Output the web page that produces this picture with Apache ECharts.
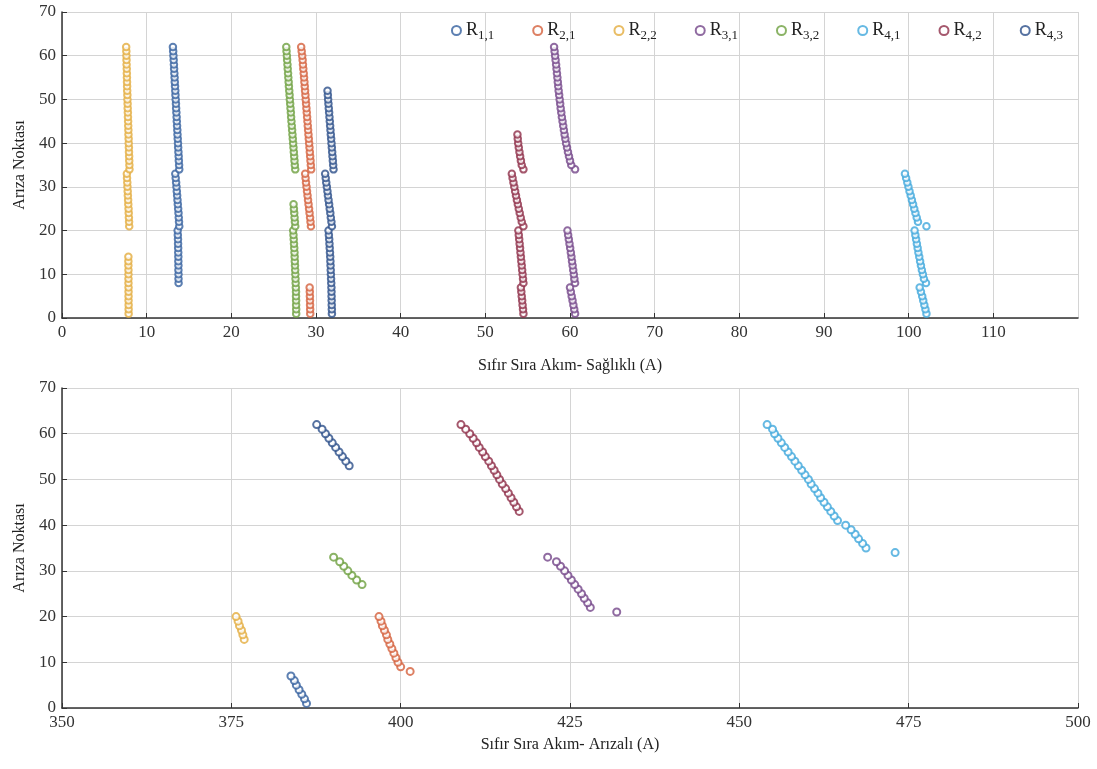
<!DOCTYPE html>
<html>
<head>
<meta charset="utf-8">
<script src="https://cdn.jsdelivr.net/npm/echarts@6/dist/echarts.min.js"></script>
<style>html,body{margin:0;padding:0;background:#fff}#c{width:1097px;height:769px}</style>
</head>
<body>
<div id="c"></div>
<script>
// ---- Data ----
const seriesNames = ['R1,1','R2,1','R2,2','R3,1','R3,2','R4,1','R4,2','R4,3'];
const faultPoints = [1,2,3,4,5,6,7,8,9,10,11,12,13,14,15,16,17,18,19,20,21,22,23,24,25,26,27,28,29,30,31,32,33,34,35,36,37,38,39,40,41,42,43,44,45,46,47,48,49,50,51,52,53,54,55,56,57,58,59,60,61,62];
const xTicksHealthy = [0,10,20,30,40,50,60,70,80,90,100,110,120];
const xTicksFaulty = [350,375,400,425,450,475,500];
const yTicks = [0,10,20,30,40,50,60,70];

// Healthy zero-sequence current (A), aligned with faultPoints (null = not plotted)
const h_R11 = [null,null,null,null,null,null,null,
  13.77,13.76,13.76,13.75,13.75,13.74,13.74,13.73,13.72,13.71,13.70,13.68,13.66,
  13.85,13.82,13.79,13.76,13.72,13.68,13.64,13.60,13.56,13.52,13.48,13.43,13.38,
  13.85,13.83,13.80,13.78,13.75,13.72,13.70,13.67,13.64,13.62,13.59,13.56,13.54,13.51,13.48,13.46,13.43,13.40,13.38,13.35,13.32,13.30,13.27,13.24,13.22,13.19,13.16,13.13,13.10];
const h_R21 = [29.32,29.31,29.30,29.29,29.28,29.27,29.25,
  null,null,null,null,null,null,null,null,null,null,null,null,null,
  29.40,29.35,29.30,29.24,29.18,29.12,29.06,29.00,28.94,28.88,28.82,28.77,28.72,
  29.43,29.39,29.35,29.31,29.27,29.23,29.19,29.15,29.11,29.07,29.03,28.99,28.95,28.91,28.87,28.83,28.79,28.75,28.71,28.67,28.63,28.59,28.55,28.50,28.46,28.42,28.37,28.31,28.25];
const h_R22 = [7.87,7.87,7.87,7.86,7.86,7.86,7.86,7.85,7.85,7.85,7.85,7.84,7.84,7.84,
  null,null,null,null,null,null,
  7.94,7.92,7.90,7.88,7.86,7.83,7.81,7.78,7.76,7.73,7.71,7.68,7.66,
  7.97,7.96,7.94,7.93,7.91,7.90,7.88,7.87,7.85,7.84,7.82,7.81,7.79,7.78,7.76,7.75,7.73,7.72,7.70,7.69,7.68,7.67,7.66,7.65,7.63,7.62,7.61,7.60,7.58];
const h_R31 = [60.60,60.50,60.40,60.30,60.20,60.10,60.00,
  60.60,60.52,60.45,60.38,60.31,60.24,60.17,60.10,60.02,59.94,59.86,59.78,59.70,
  null,null,null,null,null,null,null,null,null,null,null,null,null,
  60.60,60.15,60.00,59.88,59.76,59.65,59.54,59.45,59.36,59.28,59.20,59.12,59.04,58.97,58.90,58.84,58.78,58.72,58.66,58.61,58.56,58.51,58.46,58.41,58.36,58.30,58.24,58.18,58.12];
const h_R32 = [27.66,27.66,27.65,27.65,27.64,27.64,27.62,27.60,27.58,27.56,27.54,27.52,27.50,27.48,27.46,27.43,27.40,27.37,27.34,27.30,
  27.55,27.51,27.47,27.43,27.39,27.35,
  null,null,null,null,null,null,null,
  27.55,27.50,27.46,27.42,27.38,27.34,27.30,27.26,27.22,27.18,27.14,27.10,27.06,27.03,26.99,26.95,26.91,26.88,26.84,26.80,26.77,26.73,26.70,26.66,26.63,26.59,26.56,26.52,26.49];
const h_R41 = [102.10,101.98,101.85,101.72,101.60,101.45,101.30,
  102.05,101.80,101.68,101.56,101.45,101.35,101.25,101.15,101.06,100.97,100.88,100.79,100.70,
  102.10,101.10,100.95,100.80,100.66,100.52,100.38,100.24,100.10,99.97,99.84,99.70,99.56,
  null,null,null,null,null,null,null,null,null,null,null,null,null,null,null,null,null,null,null,null,null,null,null,null,null,null,null,null,null];
const h_R42 = [54.50,54.45,54.40,54.35,54.30,54.25,54.20,
  54.50,54.45,54.40,54.35,54.30,54.25,54.20,54.15,54.10,54.05,54.00,53.95,53.90,
  54.50,54.30,54.18,54.06,53.95,53.84,53.73,53.62,53.52,53.42,53.32,53.22,53.13,
  54.50,54.30,54.20,54.11,54.03,53.95,53.88,53.83,53.79,
  null,null,null,null,null,null,null,null,null,null,null,null,null,null,null,null,null,null,null,null];
const h_R43 = [31.88,31.87,31.86,31.85,31.84,31.83,31.82,31.80,31.78,31.76,31.74,31.72,31.70,31.68,31.65,31.62,31.59,31.56,31.52,31.48,
  31.88,31.82,31.75,31.69,31.62,31.55,31.48,31.41,31.35,31.28,31.21,31.15,31.08,
  32.07,32.03,31.99,31.95,31.91,31.87,31.83,31.79,31.75,31.71,31.67,31.63,31.59,31.55,31.51,31.47,31.43,31.40,31.36,
  null,null,null,null,null,null,null,null,null,null];

// Faulty zero-sequence current (A): fault points and values
const f_R11_pts = [1,2,3,4,5,6,7];
const f_R11 = [386.1,385.8,385.4,385.0,384.6,384.3,383.8];
const f_R21_pts = [8,9,10,11,12,13,14,15,16,17,18,19,20];
const f_R21 = [401.4,400.0,399.6,399.3,399.0,398.7,398.4,398.1,397.9,397.6,397.3,397.1,396.8];
const f_R22_pts = [15,16,17,18,19,20];
const f_R22 = [376.9,376.7,376.5,376.2,376.0,375.7];
const f_R31_pts = [21,22,23,24,25,26,27,28,29,30,31,32,33];
const f_R31 = [431.9,428.0,427.6,427.1,426.7,426.2,425.7,425.2,424.7,424.2,423.6,423.0,421.7];
const f_R32_pts = [27,28,29,30,31,32,33];
const f_R32 = [394.3,393.5,392.8,392.2,391.6,391.0,390.1];
const f_R41_pts = [34,35,36,37,38,39,40,41,42,43,44,45,46,47,48,49,50,51,52,53,54,55,56,57,58,59,60,61,62];
const f_R41 = [473.0,468.7,468.2,467.6,467.1,466.5,465.7,464.5,464.0,463.5,463.0,462.5,462.0,461.6,461.1,460.6,460.2,459.7,459.2,458.7,458.2,457.7,457.2,456.7,456.2,455.7,455.2,454.9,454.1];
const f_R42_pts = [43,44,45,46,47,48,49,50,51,52,53,54,55,56,57,58,59,60,61,62];
const f_R42 = [417.5,417.1,416.7,416.3,415.9,415.5,415.0,414.6,414.2,413.8,413.4,413.0,412.5,412.1,411.6,411.2,410.7,410.2,409.6,408.9];
const f_R43_pts = [53,54,55,56,57,58,59,60,61,62];
const f_R43 = [392.4,391.9,391.4,390.9,390.4,389.9,389.4,388.9,388.4,387.6];

// ---- Styling ----
const colors = ['#35609f','#d4603c','#e3ad3e','#74468a','#6ea040','#40a8dc','#8e2e48','#2c4f8a'];
const serif = 'Liberation Serif';
const healthy = [h_R11,h_R21,h_R22,h_R31,h_R32,h_R41,h_R42,h_R43];
const faultyPts = [f_R11_pts,f_R21_pts,f_R22_pts,f_R31_pts,f_R32_pts,f_R41_pts,f_R42_pts,f_R43_pts];
const faulty = [f_R11,f_R21,f_R22,f_R31,f_R32,f_R41,f_R42,f_R43];

function xAxisCfg(gridIndex, ticks, name, nameGap, showMax) {
  return {
    type: 'value', gridIndex: gridIndex,
    min: ticks[0], max: ticks[ticks.length-1], interval: ticks[1]-ticks[0],
    name: name, nameLocation: 'middle', nameGap: nameGap,
    nameTextStyle: {fontFamily: serif, fontSize: 16, color: '#222'},
    axisLine: {show: true, onZero: false, lineStyle: {color: '#333', width: 1.5}},
    axisTick: {show: true, inside: true, length: 5, lineStyle: {color: '#333'}},
    axisLabel: {fontFamily: serif, fontSize: 17, color: '#333', margin: 6, showMaxLabel: showMax},
    splitLine: {show: true, lineStyle: {color: '#d4d4d4', width: 1}}
  };
}
function yAxisCfg(gridIndex) {
  return {
    type: 'value', gridIndex: gridIndex,
    min: yTicks[0], max: yTicks[yTicks.length-1], interval: yTicks[1]-yTicks[0],
    name: 'Arıza Noktası', nameLocation: 'middle', nameGap: 34, nameRotate: 90,
    nameTextStyle: {fontFamily: serif, fontSize: 16, color: '#222'},
    axisLine: {show: true, onZero: false, lineStyle: {color: '#333', width: 1.5}},
    axisTick: {show: true, inside: true, length: 5, lineStyle: {color: '#333'}},
    axisLabel: {fontFamily: serif, fontSize: 17, color: '#333', margin: 6},
    splitLine: {show: true, lineStyle: {color: '#d4d4d4', width: 1}}
  };
}

const series = [];
seriesNames.forEach((nm, i) => {
  const d = [];
  healthy[i].forEach((v, k) => { if (v !== null) d.push([v, faultPoints[k]]); });
  series.push({
    name: nm, type: 'scatter', xAxisIndex: 0, yAxisIndex: 0,
    symbol: 'emptyCircle', symbolSize: 6.5, data: d,
    itemStyle: {color: colors[i], borderColor: colors[i], borderWidth: 1.3},
    emphasis: {disabled: true}
  });
});
seriesNames.forEach((nm, i) => {
  const d = faulty[i].map((v, k) => [v, faultyPts[i][k]]);
  series.push({
    name: nm, type: 'scatter', xAxisIndex: 1, yAxisIndex: 1,
    symbol: 'emptyCircle', symbolSize: 7, data: d,
    itemStyle: {color: colors[i], borderColor: colors[i], borderWidth: 1.3},
    emphasis: {disabled: true}
  });
});

const chart = echarts.init(document.getElementById('c'), null, {renderer: 'canvas'});
chart.setOption({
  animation: false,
  backgroundColor: '#fff',
  grid: [
    {left: 62, right: 19, top: 12, height: 306},
    {left: 62, right: 19, top: 388, height: 320}
  ],
  xAxis: [
    xAxisCfg(0, xTicksHealthy, 'Sıfır Sıra Akım- Sağlıklı (A)', 40, false),
    xAxisCfg(1, xTicksFaulty, 'Sıfır Sıra Akım- Arızalı (A)', 29, true)
  ],
  yAxis: [yAxisCfg(0), yAxisCfg(1)],
  legend: {
    data: seriesNames, top: 14, right: 29, orient: 'horizontal',
    itemWidth: 9, itemHeight: 9, itemGap: 38,
    formatter: n => '{r|R}{s|' + n.slice(1) + '}',
    textStyle: {
      rich: {
        r: {fontFamily: serif, fontSize: 18, color: '#222', lineHeight: 22},
        s: {fontFamily: serif, fontSize: 13, color: '#222', lineHeight: 22, padding: [10, 0, 0, 0]}
      }
    }
  },
  series: series
});
</script>
</body>
</html>
